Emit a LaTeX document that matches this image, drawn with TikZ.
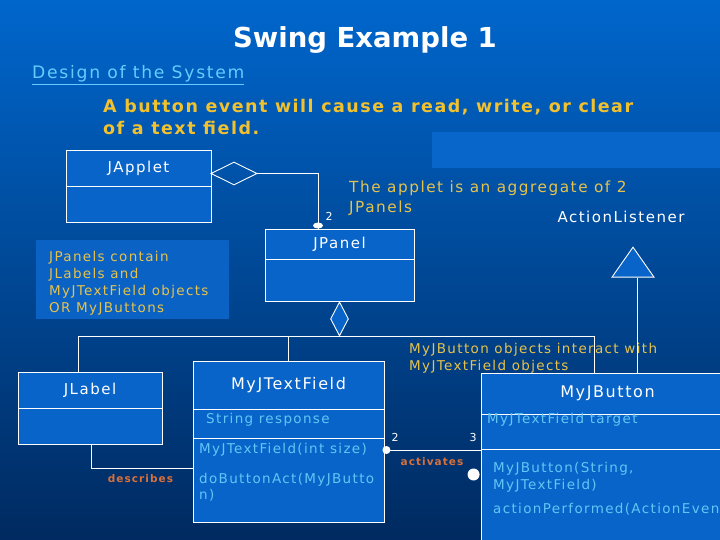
\documentclass[tikz,border=0pt]{standalone}
\usepackage{fontspec}
\setmainfont{DejaVu Sans}
\newfontfamily\umlfont[LetterSpace=10]{DejaVu Sans}
\newfontfamily\headfont[LetterSpace=8.5]{DejaVu Sans}
\usepackage{tikz}
\usepackage{xcolor}
\usetikzlibrary{shapes.geometric}

\definecolor{bgtop}{HTML}{0066CC}
\definecolor{bgmid}{HTML}{0050A6}
\definecolor{bgbot}{HTML}{002A60}
\definecolor{bgpatch}{HTML}{0866CA}
\definecolor{boxblue}{HTML}{0864C8}
\definecolor{notebg}{HTML}{0962C4}
\definecolor{linkblue}{HTML}{66CCFF}
\definecolor{headgold}{HTML}{F2C12E}
\definecolor{notegold}{HTML}{E6C24C}
\definecolor{memberblue}{HTML}{62C6F6}
\definecolor{roleorange}{HTML}{D9703A}

\begin{document}
\begin{tikzpicture}[x=1pt,y=-1pt,
  umlclass/.style={draw=white,fill=boxblue,line width=0.9pt,inner sep=0pt,text=white,
    font=\umlfont\fontsize{15}{18}\selectfont},
  umlmember/.style={inner sep=0pt,text=memberblue,align=left,
    font=\umlfont\fontsize{13.5}{17}\selectfont},
  umlnote/.style={inner sep=0pt,text=notegold,align=left,
    font=\umlfont\fontsize{13.5}{17}\selectfont},
  umllink/.style={draw=white,line width=0.9pt},
  endblob/.style={ellipse,fill=white,inner sep=0pt},
  multlabel/.style={inner sep=0pt,text=white,font=\umlfont\fontsize{11}{12}\selectfont},
  rolelabel/.style={inner sep=0pt,text=roleorange,font=\umlfont\bfseries\fontsize{10.5}{12}\selectfont}]
\useasboundingbox (0,0) rectangle (720,540);
\clip (0,0) rectangle (720,540);
% background
\shade[top color=bgtop,middle color=bgmid,bottom color=bgbot] (0,0) rectangle (720,540);
\fill[bgpatch] (432,132) rectangle (720,168);

% headings
\node[text=white,font=\bfseries\fontsize{27.5}{30}\selectfont] (title) at (365,40) {Swing Example 1};
\node[anchor=west,inner sep=0pt,text=linkblue,font=\umlfont\fontsize{17.2}{19}\selectfont] (design) at (32,75) {\underline{Design of the System}};
\node[anchor=north west,inner sep=0pt,align=left,text=headgold,font=\headfont\bfseries\fontsize{17.5}{22}\selectfont] (goal) at (103,99)
  {A button event will cause a read, write, or clear\\of a text field.};

% JApplet and its two panels
\node[umlclass,minimum width=145,minimum height=36] (japplet) at (138.5,168) {JApplet};
\node[umlclass,minimum width=145,minimum height=36] (jappletbody) at (138.5,204) {};
\node[diamond,draw=white,line width=0.9pt,inner sep=0pt,minimum width=46,minimum height=23] (aggdia) at (234,173.5) {};
\node[umlclass,minimum width=149,minimum height=30] (jpanel) at (339.5,244) {JPanel};
\node[umlclass,minimum width=149,minimum height=42] (jpanelbody) at (339.5,280) {};
\draw[umllink] (aggdia.east) -| ([xshift=-21.5pt]jpanel.north);
\node[endblob,minimum width=10,minimum height=6] (aggend) at ([xshift=-21.5pt,yshift=3pt]jpanel.north) {};
\node[multlabel] (aggmult) at (329,216) {2};
\node[umlnote,anchor=north west,font=\umlfont\fontsize{15.3}{20}\selectfont] (appletnote) at (349,181)
  {The applet is an aggregate of 2\\JPanels};

% ActionListener
\node[text=white,inner sep=0pt,font=\umlfont\fontsize{15}{18}\selectfont] (listenername) at (621,217) {ActionListener};
\node[isosceles triangle,isosceles triangle stretches,shape border rotate=90,draw=white,fill=boxblue,line width=0.9pt,
  inner sep=0pt,minimum height=30,minimum width=42,anchor=apex] (listener) at (633,246) {};

% note on the panels
\node[fill=notebg,minimum width=193,minimum height=79,inner sep=0pt] (panelnotebg) at (132.5,279.5) {};
\node[umlnote,anchor=north west] (panelnote) at (49,251.5)
  {JPanels contain\\JLabels and\\MyJTextField objects\\OR MyJButtons};

% composition
\node[diamond,draw=white,fill=boxblue,line width=0.9pt,inner sep=0pt,minimum width=18,minimum height=34,anchor=north] (compdia) at (jpanelbody.south) {};

% classes in the panel
\node[umlclass,minimum width=144,minimum height=36] (jlabel) at (90,390) {JLabel};
\node[umlclass,minimum width=144,minimum height=36] (jlabelbody) at (90,426) {};
\node[umlclass,minimum width=191,minimum height=48,font=\umlfont\fontsize{16}{19}\selectfont] (mytf) at (288.5,385) {MyJTextField};
\node[umlclass,minimum width=191,minimum height=29] (mytfattr) at (288.5,423.5) {};
\node[umlclass,minimum width=191,minimum height=84] (mytfops) at (288.5,480) {};
\node[umlclass,minimum width=253,minimum height=41,font=\umlfont\fontsize{16}{19}\selectfont] (mybtn) at (607.5,393.5) {MyJButton};
\node[umlclass,minimum width=253,minimum height=35] (mybtnattr) at (607.5,431.5) {};
\node[umlclass,minimum width=253,minimum height=111] (mybtnops) at (607.5,504.5) {};

\node[umlmember,anchor=west] (tfresp) at (206,420) {String response};
\node[umlmember,anchor=west] (tfcons) at (199,450) {MyJTextField(int size)};
\node[umlmember,anchor=north west,font=\umlfont\fontsize{13.5}{16}\selectfont] (tfact) at (199,472.6) {doButtonAct(MyJButto\\n)};
\node[umlmember,anchor=west] (btntarget) at (487,420) {MyJTextField target};
\node[umlmember,anchor=north west] (btncons) at (493,461.6) {MyJButton(String,\\MyJTextField)};
\node[umlmember,anchor=west] (btnaction) at (493,509) {actionPerformed(ActionEven};

\node[umlnote,anchor=north west] (btnnote) at (409,342.6)
  {MyJButton objects interact with\\MyJTextField objects};

% connectors
\draw[umllink] (compdia.south) -| ([xshift=-12pt]jlabel.north);
\draw[umllink] (compdia.south) -| (mytf.north);
\draw[umllink] (compdia.south) -| ([xshift=-13.5pt]mybtn.north);
\draw[umllink] ([xshift=4pt]listener.lower side) -- ([xshift=4pt]listener.lower side |- mybtn.north);
\draw[umllink] ([xshift=1pt]jlabelbody.south) |- ([yshift=12pt]mytfops.west);
\node[rolelabel] (describes) at (140.5,479) {describes};
\draw[umllink] ([yshift=30pt]mytfops.east) -- ([yshift=30pt]mytfops.east -| mybtnops.west);
\node[endblob,minimum size=8] (tfend) at ([xshift=2pt,yshift=30pt]mytfops.east) {};
\node[endblob,minimum size=12] (btnend) at ([xshift=-7pt,yshift=30pt]mybtnops.west) {};
\node[multlabel] (tfmult) at (395,437) {2};
\node[multlabel] (btnmult) at (473,437) {3};
\node[rolelabel] (activates) at (432,462) {activates};
\end{tikzpicture}
\end{document}
